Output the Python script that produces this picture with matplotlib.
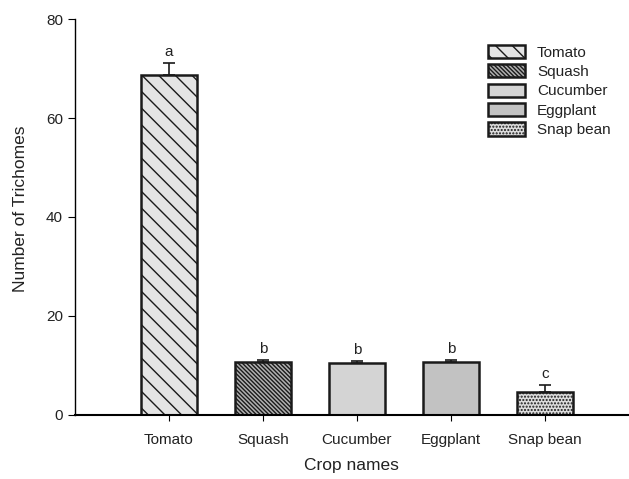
import numpy as np
import matplotlib.pyplot as plt

plt.rcParams['font.family'] = ['Liberation Sans', 'DejaVu Sans']
plt.rcParams['hatch.linewidth'] = 1.0

crops = ['Tomato', 'Squash', 'Cucumber', 'Eggplant', 'Snap bean']
means = [68.7, 10.7, 10.4, 10.7, 4.7]
errors = [2.4, 0.3, 0.4, 0.3, 1.3]
letters = ['a', 'b', 'b', 'b', 'c']

colors = ['#e4e4e4', '#b0b0b0', '#d4d4d4', '#c2c2c2', '#dcdcdc']
hatches = ['\\\\', '\\\\\\\\\\\\\\\\', '', '', '.....']

fig = plt.figure(figsize=(6.29, 4.79), dpi=100)
ax = fig.add_axes([0.119, 0.134, 0.879, 0.826])

x = np.arange(len(crops))
for i in range(len(crops)):
    ax.bar(x[i], means[i], width=0.6, color=colors[i], edgecolor='#1a1a1a',
           linewidth=1.8, hatch=hatches[i], label=crops[i], zorder=2)
    ax.errorbar(x[i], means[i], yerr=[[0], [errors[i]]], fmt='none',
                ecolor='#1a1a1a', elinewidth=1.2, capsize=4, capthick=1.2, zorder=1)
    ax.text(x[i], means[i] + errors[i] + 0.9, letters[i], ha='center',
            va='bottom', fontsize=11, color='#222222')

ax.set_xlim(-1, 4.88)
ax.set_ylim(0, 80)
ax.set_yticks([0, 20, 40, 60, 80])
ax.set_xticks(x)
ax.set_xticklabels(crops)
ax.tick_params(axis='y', direction='out', length=5, labelsize=11,
               labelcolor='#222222')
ax.tick_params(axis='x', direction='out', length=4, pad=9, labelsize=11,
               labelcolor='#222222')
ax.spines['top'].set_visible(False)
ax.spines['right'].set_visible(False)
ax.spines['left'].set_linewidth(1.0)
ax.spines['bottom'].set_linewidth(1.5)

ax.set_xlabel('Crop names', fontsize=12.5, labelpad=8, color='#222222')
ax.set_ylabel('Number of Trichomes', fontsize=12.5, color='#222222')
ax.yaxis.set_label_coords(-0.085, 0.52)

ax.legend(loc='upper right', bbox_to_anchor=(0.994, 0.97), frameon=False,
          fontsize=11, handlelength=2.4, handleheight=0.95, labelspacing=0.3,
          handletextpad=0.8, labelcolor='#222222')

fig.savefig('out.png', dpi=100)
